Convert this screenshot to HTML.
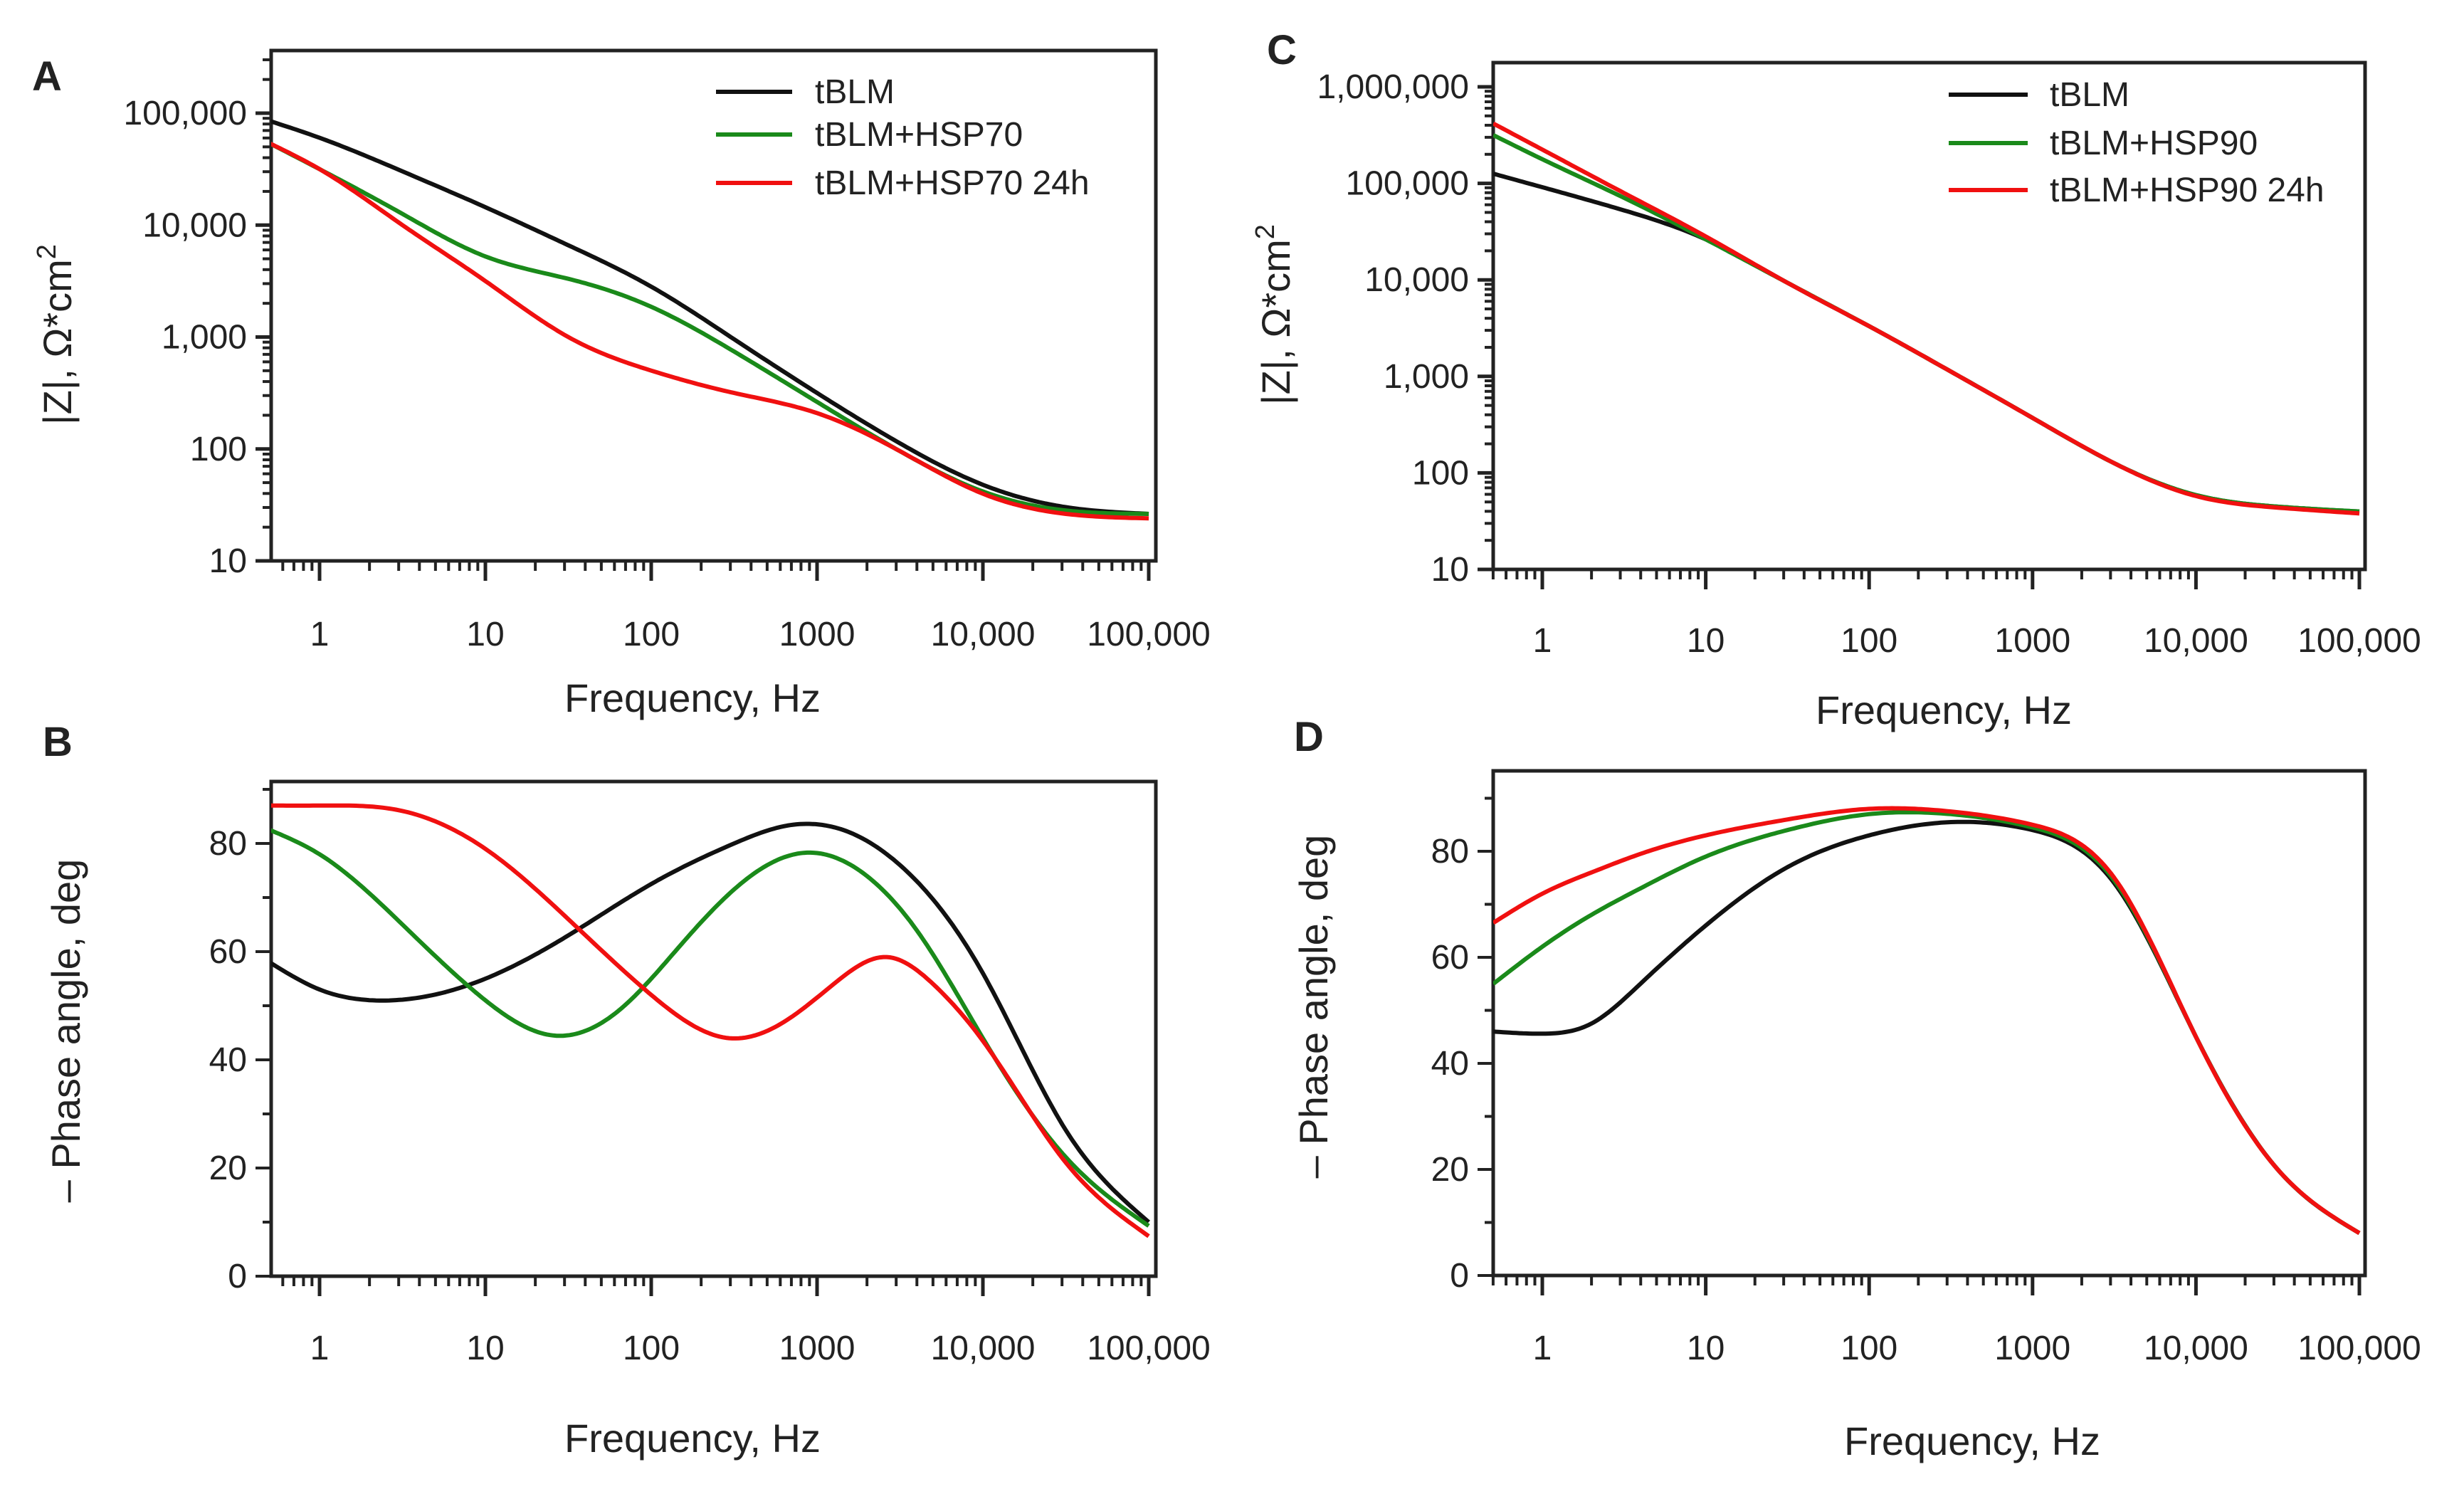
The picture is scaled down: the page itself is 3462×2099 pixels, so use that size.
<!DOCTYPE html>
<html><head><meta charset="utf-8"><style>
html,body{margin:0;padding:0;background:#fff;}
svg{display:block;}
text{font-family:"Liberation Sans Narrow","Liberation Sans",sans-serif;fill:#222;}
</style></head><body>
<svg id="chart" xmlns="http://www.w3.org/2000/svg" width="3462" height="2099" viewBox="0 0 3462 2099"></svg>
<script>
// ---- data (x = log10 frequency) ----
const aLogF = [-0.3,0,0.5,1,1.5,2,2.5,3,3.5,4,4.5,5];
const aBlack = [4.93,4.78,4.48,4.16,3.82,3.45,2.98,2.5,2.05,1.68,1.48,1.42];
const aGreen = [4.73,4.5,4.1,3.72,3.52,3.27,2.87,2.42,1.98,1.62,1.45,1.42];
const aRed   = [4.73,4.5,4.0,3.5,3.0,2.7,2.5,2.32,1.98,1.6,1.42,1.38];

const bLogFBlack = [-0.3,0,0.32,0.6,1,1.5,2,2.5,2.82,3.2,3.5,4,4.5,5];
const bBlack = [58,53,51,51.5,55,63,72.5,80,83.3,82,76,56,27,10];
const bLogFGreen = [-0.3,0,0.5,1,1.41,1.8,2.2,2.6,2.94,3.3,3.6,4,4.5,5];
const bGreen = [82.5,78,65,51,44.5,49,62,74,78.3,74,64,44,22,9.3];
const bLogFRed = [-0.3,0,0.5,1,1.5,2,2.47,2.8,3.1,3.42,3.7,4,4.5,5];
const bRed = [87,87,86,79,66,52,44,47,54,59,54,43.5,21,7.4];

const cLogF = [-0.3,0,0.5,1,1.5,2,2.5,3,3.5,4,4.5,5];
const cBlack = [5.1,4.96,4.72,4.42,3.97,3.52,3.05,2.57,2.1,1.77,1.65,1.6];
const cGreen = [5.5,5.25,4.85,4.42,3.97,3.52,3.05,2.57,2.1,1.77,1.65,1.6];
const cRed   = [5.62,5.35,4.9,4.45,3.97,3.52,3.05,2.57,2.1,1.76,1.64,1.58];

const dLogF = [-0.3,0,0.3,0.6,1,1.5,2,2.5,3,3.5,4,4.5,5];
const dBlack = [46,45.6,47.5,55,66,77,83,85.5,84,74,45,20,8];
const dGreen = [55,62,68,73,79,84,87,87,84.5,74.5,45,20,8];
const dRed   = [66.5,72,76,79.5,83,86,88,87.5,85,75,45,20,8];

const xTickLabels = ["1","10","100","1000","10,000","100,000"];
const aYTickLabels = ["10","100","1,000","10,000","100,000"];
const cYTickLabels = ["10","100","1,000","10,000","100,000","1,000,000"];
const phaseTicks = [0,20,40,60,80];

const NS="http://www.w3.org/2000/svg";
const svg=document.getElementById('chart');
function el(tag,attrs,parent){const e=document.createElementNS(NS,tag);for(const k in attrs)e.setAttribute(k,attrs[k]);(parent||svg).appendChild(e);return e;}
function splineSample(xs,ys,step){
  const n=xs.length,h=[],al=[],l=[1],mu=[0],z=[0],c=new Array(n).fill(0),b=[],d=[];
  for(let i=0;i<n-1;i++)h.push(xs[i+1]-xs[i]);
  for(let i=1;i<n-1;i++)al[i]=3/h[i]*(ys[i+1]-ys[i])-3/h[i-1]*(ys[i]-ys[i-1]);
  for(let i=1;i<n-1;i++){l[i]=2*(xs[i+1]-xs[i-1])-h[i-1]*mu[i-1];mu[i]=h[i]/l[i];z[i]=(al[i]-h[i-1]*z[i-1])/l[i];}
  for(let j=n-2;j>=0;j--){c[j]=(j>0?z[j]:0)-mu[j]*c[j+1];if(j===0)c[0]=0;b[j]=(ys[j+1]-ys[j])/h[j]-h[j]*(c[j+1]+2*c[j])/3;d[j]=(c[j+1]-c[j])/(3*h[j]);}
  const out=[];
  for(let i=0;i<n-1;i++){
    const k=Math.max(2,Math.ceil(h[i]/step));
    for(let j=0;j<k;j++){const t=j/k*h[i];out.push([xs[i]+t,ys[i]+b[i]*t+c[i]*t*t+d[i]*t*t*t]);}
  }
  out.push([xs[n-1],ys[n-1]]);
  return out;
}
function panel(cfg){
  const g=el('g',{});
  
  
  const xs=v=>cfg.x0+(v-0)*(cfg.x5-cfg.x0)/5;
  const ys=v=>cfg.yA+(v-cfg.vA)*(cfg.yB-cfg.yA)/(cfg.vB-cfg.vA);
  const fr=el('rect',{x:cfg.L,y:cfg.T,width:cfg.R-cfg.L,height:cfg.B-cfg.T,fill:'none',stroke:'#222','stroke-width':5},g);
  
  
  for(let dec=-1;dec<=5;dec++){
    for(let m=1;m<10;m++){
      const lv=dec+Math.log10(m); if(lv>5.01) continue;
      const x=xs(lv); if(x<cfg.L-1||x>cfg.R+1) continue;
      const len=m===1?28:14;
      el('line',{x1:x,y1:cfg.B,x2:x,y2:cfg.B+len,stroke:'#222','stroke-width':m===1?5:4},g);
    }
  }
  xTickLabels.forEach((t,i)=>{
    const tx=el('text',{x:xs(i),y:cfg.xLabY,'font-size':48,'text-anchor':'middle'},g);
    tx.textContent=t;
    
    
  });
  if(cfg.log){
    cfg.yLabels.forEach((t,i)=>{
      const v=cfg.vA+i;
      for(let m=1;m<10;m++){
        const lv=v+Math.log10(m); const y=ys(lv); if(y<cfg.T) continue;
        const len=m===1?22:12;
        el('line',{x1:cfg.L,y1:y,x2:cfg.L-len,y2:y,stroke:'#222','stroke-width':m===1?5:4},g);
      }
      const tx=el('text',{x:cfg.L-34,y:ys(v)+16,'font-size':48,'text-anchor':'end'},g);
      tx.textContent=t;
      
      
    });
  } else {
    for(let v=0;v<=90;v+=10){
      const y=ys(v);
      el('line',{x1:cfg.L,y1:y,x2:cfg.L-(v%20===0?22:12),y2:y,stroke:'#222','stroke-width':4},g);
    }
    phaseTicks.forEach(v=>{
      const tx=el('text',{x:cfg.L-34,y:ys(v)+16,'font-size':48,'text-anchor':'end'},g);
      tx.textContent=String(v);
      
      
    });
  }
  const clipId='clip'+cfg.letter;
  const cp=el('clipPath',{id:clipId},g); el('rect',{x:cfg.L,y:cfg.T,width:cfg.R-cfg.L,height:cfg.B-cfg.T},cp);
  cfg.series.forEach(s=>{
    const pts=splineSample(s.x,s.y,0.02).map(p=>[xs(p[0]),ys(p[1])]);
    const d="M"+pts.map(p=>p[0].toFixed(1)+","+p[1].toFixed(1)).join(" L");
    const p=el('path',{d:d,fill:'none',stroke:s.color,'stroke-width':6,'stroke-linejoin':'round','clip-path':'url(#'+clipId+')'},g);
    
    
  });
  const xt=el('text',{x:cfg.xtX,y:cfg.xtY,'font-size':56,'text-anchor':'middle'},g);
  xt.textContent='Frequency, Hz';
  
  
  const yt=el('text',{x:0,y:0,'font-size':56,'text-anchor':'middle',transform:'translate('+cfg.ytX+','+cfg.ytY+') rotate(-90)'},g);
  if(cfg.log){yt.innerHTML='|Z|, Ω*cm<tspan dy="-22" font-size="38">2</tspan>';}
  else yt.textContent='– Phase angle, deg';
  
  
  const lt=el('text',{x:cfg.letX,y:cfg.letY,'font-size':58,'font-weight':'bold'},g);
  lt.textContent=cfg.letter;
  
  
  if(cfg.legend){
    cfg.series.forEach((s,i)=>{
      const ly=cfg.legend.y[i];
      const ll=el('line',{x1:cfg.legend.x1,y1:ly,x2:cfg.legend.x2,y2:ly,stroke:s.color,'stroke-width':6},g);
      
      
      const tx=el('text',{x:cfg.legend.tx,y:ly+16,'font-size':48},g);
      tx.textContent=s.label;
      
      
    });
  }
}
panel({name:'panel-a',letter:'A',log:true,L:381,R:1624,T:71,B:788,x0:449,x5:1614,yA:788,vA:1,yB:159,vB:5,
  yLabels:aYTickLabels,xLabY:907,xtX:973,xtY:1000,ytX:100,ytY:470,letX:45,letY:127,
  legend:{x1:1006,x2:1113,tx:1145,y:[129,189,257]},
  series:[{name:'series-tblm',label:'tBLM',color:'#111',x:aLogF,y:aBlack},
          {name:'series-tblm-hsp70',label:'tBLM+HSP70',color:'#1a8a1a',x:aLogF,y:aGreen},
          {name:'series-tblm-hsp70-24h',label:'tBLM+HSP70 24h',color:'#f01010',x:aLogF,y:aRed}]});
panel({name:'panel-b',letter:'B',log:false,L:381,R:1624,T:1098,B:1793,x0:449,x5:1614,yA:1793,vA:0,yB:1185,vB:80,
  xLabY:1910,xtX:973,xtY:2040,ytX:112,ytY:1448,letX:60,letY:1062,
  series:[{name:'series-tblm',color:'#111',x:bLogFBlack,y:bBlack},
          {name:'series-tblm-hsp70',color:'#1a8a1a',x:bLogFGreen,y:bGreen},
          {name:'series-tblm-hsp70-24h',color:'#f01010',x:bLogFRed,y:bRed}]});
panel({name:'panel-c',letter:'C',log:true,L:2098,R:3323,T:88,B:800,x0:2167,x5:3315,yA:800,vA:1,yB:122,vB:6,
  yLabels:cYTickLabels,xLabY:916,xtX:2731,xtY:1017,ytX:1812,ytY:442,letX:1780,letY:90,
  legend:{x1:2738,x2:2849,tx:2880,y:[133,201,267]},
  series:[{name:'series-tblm',label:'tBLM',color:'#111',x:cLogF,y:cBlack},
          {name:'series-tblm-hsp90',label:'tBLM+HSP90',color:'#1a8a1a',x:cLogF,y:cGreen},
          {name:'series-tblm-hsp90-24h',label:'tBLM+HSP90 24h',color:'#f01010',x:cLogF,y:cRed}]});
panel({name:'panel-d',letter:'D',log:false,L:2098,R:3323,T:1083,B:1792,x0:2167,x5:3315,yA:1792,vA:0,yB:1196,vB:80,
  xLabY:1910,xtX:2771,xtY:2044,ytX:1865,ytY:1414,letX:1818,letY:1055,
  series:[{name:'series-tblm',color:'#111',x:dLogF,y:dBlack},
          {name:'series-tblm-hsp90',color:'#1a8a1a',x:dLogF,y:dGreen},
          {name:'series-tblm-hsp90-24h',color:'#f01010',x:dLogF,y:dRed}]});
</script>
</body></html>
